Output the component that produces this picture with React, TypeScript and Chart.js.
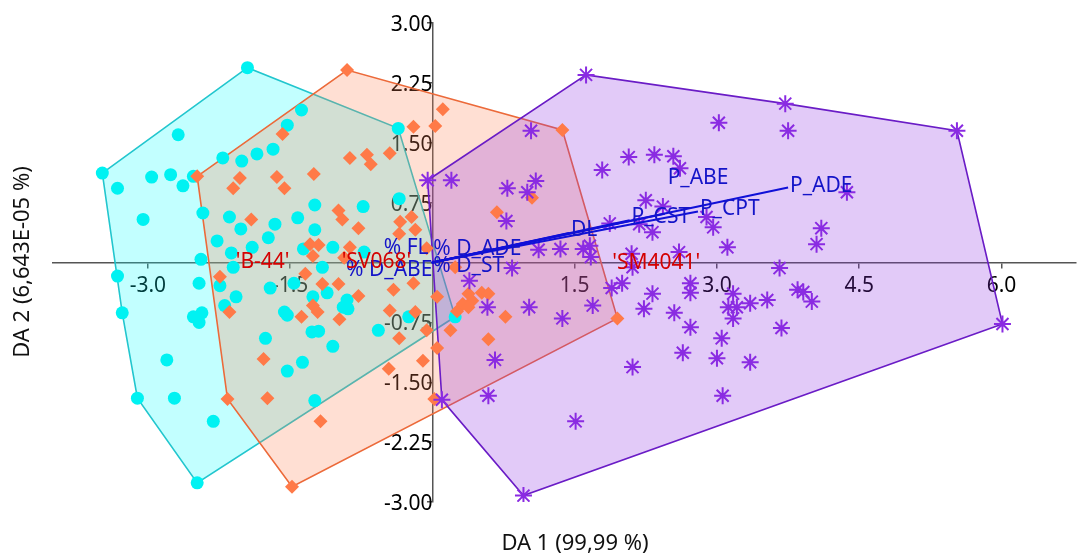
import React, { useEffect, useRef } from 'react';
import { Chart, registerables } from 'chart.js';

Chart.register(...registerables);

// ---- Observations: group 'B-44' (cyan circles) ----
const b44X = [-1.95,-2.68,-3.48,-3.32,-2.96,-2.76,-2.63,-2.52,-3.05,-1.38,-1.53,-2.21,-2.01,-1.85,-1.68,-0.36,-2.42,-2.14,-2.02,-1.66,-1.42,-1.24,-0.73,-0.35,-1.24,-2.27,-1.90,-1.73,-2.12,-1.36,-1.05,-0.72,-2.44,-2.10,-1.16,-3.32,-2.46,-2.24,-2.07,-1.71,-1.46,-1.26,-1.11,-3.27,-2.52,-2.43,-2.46,-2.19,-1.56,-1.53,-0.90,-0.94,-0.89,-1.27,-1.20,-1.76,-1.05,-0.57,-0.25,-2.80,-1.37,-1.53,-3.11,-2.72,-1.24,-2.31,-2.48,0.24];
const b44Y = [2.44,1.60,1.12,0.93,1.07,1.10,0.96,1.08,0.54,1.91,1.72,1.31,1.27,1.36,1.42,1.68,0.62,0.57,0.42,0.48,0.56,0.72,0.70,0.80,0.41,0.27,0.19,0.31,0.12,0.17,0.19,0.13,0.04,-0.06,-0.06,-0.17,-0.26,-0.29,-0.43,-0.32,-0.26,-0.43,-0.38,-0.63,-0.68,-0.63,-0.75,-0.54,-0.62,-0.66,-0.47,-0.56,-0.58,-0.87,-0.86,-0.95,-1.05,-0.85,-0.68,-1.22,-1.25,-1.36,-1.70,-1.70,-1.73,-1.99,-2.76,-0.68];

// ---- group 'SV068' (orange diamonds) ----
const sv068X = [-0.90,-1.58,0.11,-0.20,0.03,-0.87,-0.69,-0.65,-0.45,-2.48,-2.03,-2.10,-1.64,-1.56,-1.25,-1.91,-0.99,-0.95,-0.78,-0.34,-0.22,-0.18,-0.35,-1.29,-1.20,-1.26,-0.87,-0.06,-0.93,1.05,0.68,1.37,0.24,-2.24,-1.34,-1.16,-0.99,-0.78,-0.41,-0.20,0.05,-2.14,-1.38,-1.26,-1.21,-0.98,-0.45,-0.18,-0.06,-0.35,0.05,-1.78,-0.46,-0.10,-2.16,-1.74,-1.18,-1.48,0.02,0.38,0.52,0.59,0.32,0.42,0.26,0.38,0.77,0.19,0.59,1.95];
const sv068Y = [2.41,1.61,1.92,1.70,1.71,1.31,1.35,1.23,1.37,1.08,1.06,0.93,1.07,0.93,1.11,0.54,0.65,0.54,0.43,0.51,0.57,0.41,0.36,0.23,0.22,0.08,0.19,0.18,0.06,0.81,0.63,1.66,-0.06,-0.18,-0.14,-0.27,-0.27,-0.42,-0.34,-0.26,-0.43,-0.62,-0.68,-0.54,-0.62,-0.71,-0.60,-0.62,-0.85,-0.95,-1.07,-1.21,-1.33,-1.23,-1.71,-1.70,-1.99,-2.81,-1.71,-0.39,-0.38,-0.39,-0.52,-0.48,-0.61,-0.56,-0.68,-0.85,-0.96,-0.70];

// ---- group 'SM4041' (purple asterisks) ----
const sm4041X = [1.62,3.72,3.02,3.75,1.04,5.53,-0.05,0.20,0.79,1.00,1.09,1.79,2.07,2.34,2.54,2.61,2.25,2.43,0.78,1.87,2.18,2.32,2.89,2.96,3.11,1.12,1.35,1.59,1.66,1.67,2.10,2.60,3.66,0.84,2.11,4.37,4.10,4.05,0.39,0.58,1.02,1.37,1.69,1.89,2.00,2.32,2.23,2.55,2.72,2.72,2.72,3.05,3.17,3.12,3.21,3.17,3.35,3.53,3.85,3.91,4.00,3.68,2.64,3.00,3.35,2.11,3.06,0.66,0.59,1.51,0.10,0.96,6.01];
const sm4041Y = [2.35,1.99,1.75,1.65,1.65,1.65,1.03,1.03,0.93,0.88,1.02,1.16,1.32,1.35,1.33,1.18,0.78,0.70,0.52,0.49,0.48,0.38,0.57,0.44,0.19,0.16,0.17,0.17,0.21,0.07,0.11,0.13,-0.07,-0.07,-0.06,0.88,0.43,0.23,-0.23,-0.56,-0.56,-0.70,-0.54,-0.32,-0.26,-0.39,-0.58,-0.63,-0.26,-0.38,-0.81,-0.95,-0.39,-0.56,-0.56,-0.70,-0.51,-0.47,-0.34,-0.37,-0.49,-0.82,-1.13,-1.20,-1.25,-1.31,-1.67,-1.22,-1.67,-1.99,-1.72,-2.92,-0.77];

// ---- group centroid labels ----
const groupNames = ["'B-44'", "'SV068'", "'SM4041'"];
const groupX = [-1.79, -0.59, 2.36];
const groupY = [0.0, 0.0, -0.01];

// ---- variable vectors (loadings) ----
const vecNames = ['P_ADE', 'P_ABE', 'P_CPT', 'P_CST', 'DL', '% D_ADE', '% D_ST', '% FL', '% D_ABE'];
const vecX = [3.75, 2.45, 2.80, 2.08, 1.44, 0.02, 0.02, -0.01, -0.01];
const vecY = [0.94, 0.61, 0.64, 0.53, 0.37, 0.02, -0.01, 0.01, -0.01];
const vecLabelX = [3.77, 2.48, 2.82, 2.10, 1.46, 0.01, 0.01, -0.04, 0.0];
const vecLabelY = [0.96, 1.06, 0.67, 0.57, 0.41, 0.17, -0.05, 0.18, -0.09];
const vecLabelAlign = ['left', 'left', 'left', 'left', 'left', 'left', 'left', 'right', 'right'];

// ---- axes ----
const xMin = -4.0;
const xMax = 6.78;
const xStep = 1.5;
const yMin = -3.0;
const yMax = 3.0;
const yStep = 0.75;
const xTitle = 'DA 1 (99,99 %)';
const yTitle = 'DA 2 (6,643E-05 %)';

const FONT = '"Noto Sans", "Open Sans", sans-serif';

type P = { x: number; y: number };

function toPoints(xs: number[], ys: number[]): P[] {
  return xs.map((x, i) => ({ x, y: ys[i] }));
}

function convexHull(xs: number[], ys: number[]): P[] {
  const pts = toPoints(xs, ys).sort((a, b) => a.x - b.x || a.y - b.y);
  const cross = (o: P, a: P, b: P) => (a.x - o.x) * (b.y - o.y) - (a.y - o.y) * (b.x - o.x);
  const lower: P[] = [];
  for (const p of pts) {
    while (lower.length >= 2 && cross(lower[lower.length - 2], lower[lower.length - 1], p) <= 0) lower.pop();
    lower.push(p);
  }
  const upper: P[] = [];
  for (let i = pts.length - 1; i >= 0; i--) {
    const p = pts[i];
    while (upper.length >= 2 && cross(upper[upper.length - 2], upper[upper.length - 1], p) <= 0) upper.pop();
    upper.push(p);
  }
  upper.pop();
  lower.pop();
  const h = lower.concat(upper);
  h.push(h[0]);
  return h;
}

const textPlugin = {
  id: 'biplotText',
  afterDatasetsDraw(chart: any) {
    const { ctx, scales } = chart;
    const xs = scales.x;
    const ys = scales.y;
    ctx.save();
    ctx.font = `21px ${FONT}`;
    ctx.textBaseline = 'middle';
    ctx.fillStyle = '#1414C8';
    vecNames.forEach((n, i) => {
      ctx.textAlign = vecLabelAlign[i];
      ctx.fillText(n, xs.getPixelForValue(vecLabelX[i]), ys.getPixelForValue(vecLabelY[i]));
    });
    ctx.fillStyle = '#D40000';
    ctx.textAlign = 'center';
    groupNames.forEach((n, i) => {
      ctx.fillText(n, xs.getPixelForValue(groupX[i]), ys.getPixelForValue(groupY[i]));
    });
    ctx.restore();
  },
  afterDraw(chart: any) {
    const { ctx } = chart;
    ctx.save();
    ctx.font = `22px ${FONT}`;
    ctx.fillStyle = '#111';
    ctx.textAlign = 'center';
    ctx.textBaseline = 'middle';
    ctx.fillText(xTitle, 575, 544);
    ctx.translate(23, 262);
    ctx.rotate(-Math.PI / 2);
    ctx.fillText(yTitle, 0, 0);
    ctx.restore();
  },
};

export default function App() {
  const ref = useRef<HTMLCanvasElement | null>(null);

  useEffect(() => {
    if (!ref.current) return;
    const hullDs = (xs: number[], ys: number[], line: string, fill: string, order: number) => ({
      type: 'line' as const,
      data: convexHull(xs, ys),
      borderColor: line,
      backgroundColor: fill,
      borderWidth: 1.6,
      fill: 'shape',
      pointRadius: 0,
      tension: 0,
      order,
    });
    const vecDs = vecNames.map((n, i) => ({
      type: 'line' as const,
      label: n,
      data: [{ x: 0, y: 0 }, { x: vecX[i], y: vecY[i] }],
      borderColor: '#1010D8',
      borderWidth: 2,
      pointRadius: 0,
      fill: false,
      order: 0,
    }));
    const chart = new Chart(ref.current, {
      type: 'scatter',
      data: {
        datasets: [
          hullDs(b44X, b44Y, '#22C6CE', 'rgba(0,255,255,0.24)', 10),
          hullDs(sv068X, sv068Y, '#EC6A3A', 'rgba(255,127,80,0.25)', 9),
          hullDs(sm4041X, sm4041Y, '#6A1CC6', 'rgba(138,43,226,0.25)', 8),
          {
            label: 'B-44',
            data: toPoints(b44X, b44Y),
            pointStyle: 'circle',
            pointRadius: 6.5,
            backgroundColor: '#00F2F2',
            borderWidth: 0,
            order: 5,
          },
          {
            label: 'SV068',
            data: toPoints(sv068X, sv068Y),
            pointStyle: 'rectRot',
            pointRadius: 7,
            backgroundColor: '#FF7A48',
            borderWidth: 0,
            order: 4,
          },
          {
            label: 'SM4041',
            data: toPoints(sm4041X, sm4041Y),
            pointStyle: 'star',
            pointRadius: 8.5,
            backgroundColor: '#8A2BE2',
            borderColor: '#8A2BE2',
            borderWidth: 2,
            order: 3,
          },
          ...vecDs,
        ] as any,
      },
      options: {
        responsive: false,
        maintainAspectRatio: false,
        animation: false,
        layout: { padding: { left: 53, right: 0, top: 23, bottom: 52 } },
        plugins: {
          legend: { display: false },
          tooltip: { enabled: false },
        },
        scales: {
          x: {
            type: 'linear',
            position: { y: 0 } as any,
            min: xMin,
            max: xMax,
            border: { display: true, color: '#555', width: 1.5 },
            grid: { display: true, drawOnChartArea: false, drawTicks: true, tickLength: 5, color: '#555', lineWidth: 1.5 },
            ticks: {
              stepSize: xStep,
              includeBounds: false,
              autoSkip: false,
              maxRotation: 0,
              padding: 6,
              color: '#000',
              font: { family: FONT, size: 21 },
              callback: (v: any) => (Math.abs(Number(v)) < 1e-9 ? '' : Number(v).toFixed(1)),
            },
            title: { display: false },
          },
          y: {
            type: 'linear',
            position: { x: 0 } as any,
            min: yMin,
            max: yMax,
            border: { display: true, color: '#555', width: 1.5 },
            grid: { display: true, drawOnChartArea: false, drawTicks: true, tickLength: 5, color: '#555', lineWidth: 1.5 },
            ticks: {
              stepSize: yStep,
              includeBounds: false,
              autoSkip: false,
              padding: 2,
              labelOffset: 2,
              color: '#000',
              font: { family: FONT, size: 21 },
              callback: (v: any) => (Math.abs(Number(v)) < 1e-9 ? '' : Number(v).toFixed(2)),
            },
            title: { display: false },
          },
        },
      },
      plugins: [textPlugin],
    });
    return () => chart.destroy();
  }, []);

  return (
    <div style={{ position: 'fixed', left: 0, top: 0, width: 1086, height: 554, background: '#fff' }}>
      <canvas ref={ref} width={1086} height={554} />
    </div>
  );
}
